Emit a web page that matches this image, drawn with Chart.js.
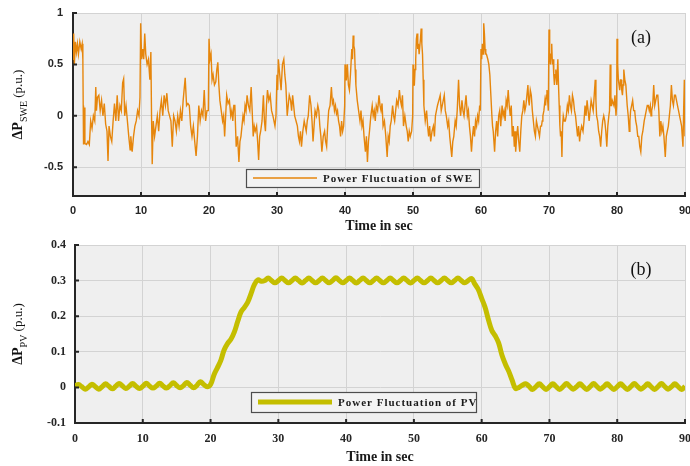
<!DOCTYPE html>
<html lang="en">
<head>
<meta charset="UTF-8">
<title>Power Fluctuation of SWE and PV</title>
<script src="https://cdn.jsdelivr.net/npm/chart.js@4.4.1/dist/chart.umd.min.js"></script>
<style>
  html, body { margin: 0; padding: 0; background: #fff; }
  #wrap { position: relative; width: 690px; height: 466px; }
  #topChart { position: absolute; left: 0; top: 0; }
  #bottomChart { position: absolute; left: 0; top: 232px; }
</style>
</head>
<body>
<div id="wrap">
  <canvas id="topChart" width="690" height="232"></canvas>
  <canvas id="bottomChart" width="690" height="234"></canvas>
</div>
<script>
// (a) wind power fluctuation (time in sec, p.u.)
const sweTime = [
  // 0 - 15 s
  0,0.1,0.2,0.35,0.5,0.65,0.8,1.0,1.2,1.35,
  1.45,1.5,1.55,1.65,1.75,2.0,2.2,2.4,2.6,2.8,
  3.0,3.2,3.35,3.45,3.6,3.8,4.0,4.2,4.4,4.6,
  4.8,5.0,5.15,5.3,5.5,5.7,5.9,6.1,6.3,6.5,
  6.7,6.9,7.1,7.3,7.45,7.6,7.8,8.0,8.2,8.4,
  8.5,8.7,8.9,9.1,9.3,9.5,9.7,9.85,9.95,10.1,
  10.25,10.4,10.55,10.7,10.9,11.1,11.3,11.45,11.55,11.65,
  11.8,12.0,12.2,12.4,12.6,12.8,13.0,13.2,13.4,13.6,
  13.8,14.0,14.2,14.4,14.6,14.8,
  // 15 - 30 s
  15.0,15.2,15.4,15.6,15.8,16.0,16.2,16.5,16.7,16.9,
  17.1,17.3,17.5,17.7,17.9,18.1,18.3,18.5,18.7,18.9,
  19.1,19.3,19.5,19.7,19.9,20.0,20.15,20.3,20.45,20.6,
  20.8,21.0,21.15,21.3,21.45,21.6,21.8,22.0,22.15,22.3,
  22.45,22.6,22.8,23.0,23.2,23.35,23.5,23.65,23.8,24.0,
  24.2,24.4,24.55,24.7,24.85,25.0,25.15,25.3,25.45,25.6,
  25.8,26.0,26.2,26.35,26.5,26.65,26.8,27.0,27.15,27.3,
  27.45,27.6,27.8,28.0,28.15,28.3,28.45,28.6,28.8,29.0,
  29.2,29.4,29.55,29.7,29.85,
  // 30 - 45 s
  30.0,30.1,30.2,30.4,30.6,30.8,31.0,31.15,31.3,31.5,
  31.65,31.8,32.0,32.15,32.3,32.45,32.6,32.8,33.0,33.15,
  33.3,33.45,33.6,33.8,34.0,34.15,34.3,34.45,34.6,34.8,
  35.0,35.15,35.3,35.45,35.6,35.8,36.0,36.15,36.3,36.45,
  36.6,36.8,37.0,37.15,37.3,37.45,37.6,37.8,38.0,38.15,
  38.3,38.45,38.6,38.75,38.9,39.05,39.2,39.35,39.5,39.65,
  39.8,39.95,40.0,40.1,40.2,40.35,40.5,40.65,40.8,41.0,
  41.1,41.2,41.3,41.4,41.5,41.6,41.8,42.0,42.2,42.35,
  42.5,42.65,42.8,43.0,43.15,43.3,43.45,43.6,43.8,44.0,
  44.15,44.3,44.45,44.6,44.8,
  // 45 - 60 s
  45.0,45.15,45.3,45.45,45.6,45.8,46.0,46.1,46.2,46.35,
  46.5,46.65,46.8,47.0,47.15,47.3,47.45,47.6,47.8,48.0,
  48.15,48.3,48.45,48.6,48.8,49.0,49.15,49.3,49.45,49.6,
  49.8,49.95,50.0,50.1,50.2,50.3,50.4,50.5,50.6,50.7,
  50.8,50.9,51.0,51.1,51.2,51.3,51.4,51.5,51.6,51.8,
  52.0,52.15,52.3,52.45,52.6,52.8,53.0,53.15,53.3,53.45,
  53.6,53.8,54.0,54.15,54.3,54.45,54.6,54.75,54.9,55.1,
  55.25,55.4,55.55,55.7,55.85,56.0,56.2,56.35,56.5,56.7,
  56.85,57.0,57.2,57.35,57.5,57.65,57.8,58.0,58.15,58.3,
  58.45,58.6,58.75,58.9,59.05,59.2,59.35,59.5,59.65,59.8,
  59.9,
  // 60 - 75 s
  60.0,60.1,60.2,60.3,60.4,60.5,60.6,60.7,60.8,61.0,
  61.15,61.3,61.45,61.6,61.7,61.8,62.0,62.15,62.3,62.45,
  62.6,62.75,62.9,63.1,63.25,63.4,63.55,63.7,63.85,64.0,
  64.15,64.3,64.45,64.6,64.75,64.9,65.0,65.1,65.25,65.4,
  65.55,65.7,65.85,66.0,66.15,66.3,66.45,66.6,66.75,66.9,
  67.0,67.1,67.25,67.4,67.55,67.7,67.85,68.0,68.15,68.3,
  68.45,68.6,68.75,68.9,69.0,69.1,69.25,69.4,69.5,69.6,
  69.7,69.8,69.9,70.0,70.1,70.2,70.3,70.4,70.5,70.6,
  70.7,70.8,70.9,71.0,71.15,71.3,71.4,71.5,71.6,71.7,
  71.8,71.9,72.0,72.1,72.25,72.4,72.55,72.7,72.85,73.0,
  73.15,73.3,73.45,73.6,73.75,73.9,74.05,74.2,74.35,74.5,
  74.65,74.8,
  // 75 - 90 s
  75.0,75.15,75.3,75.45,75.6,75.75,75.9,76.05,76.2,76.35,
  76.5,76.65,76.8,76.9,77.0,77.15,77.3,77.45,77.6,77.75,
  77.9,78.05,78.2,78.35,78.5,78.65,78.8,78.9,79.0,79.1,
  79.2,79.3,79.4,79.55,79.7,79.85,79.95,80.0,80.1,80.2,
  80.3,80.4,80.5,80.6,80.7,80.8,80.9,81.0,81.15,81.3,
  81.4,81.5,81.65,81.8,81.9,82.0,82.15,82.3,82.45,82.6,
  82.75,82.9,83.05,83.2,83.35,83.5,83.65,83.8,83.9,84.0,
  84.15,84.3,84.45,84.6,84.75,84.9,85.0,85.1,85.25,85.4,
  85.55,85.7,85.85,86.0,86.15,86.3,86.45,86.6,86.75,86.9,
  87.0,87.1,87.25,87.4,87.55,87.7,87.85,88.0,88.15,88.3,
  88.45,88.6,88.75,88.9,89.05,89.2,89.35,89.5,89.6,89.7,
  89.8,89.9,90.0
];
const sweValue = [
  // 0 - 15 s
  .55,.8,.5,.72,.62,.7,.6,.72,.65,.7,
  .55,.1,-.28,.08,-.27,-.28,-.25,-.28,-.05,-.12,
  0,-.05,.28,.05,.18,.2,.05,.15,0,.12,
  -.08,-.15,-.44,-.1,-.2,-.25,-.05,.12,-.05,.2,
  -.05,.1,.05,.32,.36,0,.1,-.05,-.2,-.33,
  -.2,-.35,-.2,-.1,-.05,.05,0,.18,.9,.55,
  .65,.55,.8,.6,.5,.55,.35,.62,0,-.47,
  -.05,-.2,-.1,0,-.15,.05,.15,0,.2,.1,
  .22,.05,0,-.05,-.3,0,
  // 15 - 30 s
  -.05,-.15,0,-.1,.05,-.05,.15,.37,.1,.12,
  .1,-.1,-.2,-.1,-.25,-.39,-.2,.1,-.05,.05,
  0,.25,-.05,.05,.05,.75,.55,.6,.35,.4,
  .3,.33,.45,.52,.3,.15,.05,-.05,0,-.2,
  0,.2,.12,.15,0,.05,-.05,.1,.1,-.3,
  -.2,-.45,-.25,-.2,-.1,0,-.05,.1,.05,.2,
  .1,.05,.28,.05,-.2,-.1,-.15,-.1,-.25,-.43,
  -.2,-.15,-.05,.2,-.05,-.15,.1,.25,.15,.2,
  .05,0,-.05,-.1,0,
  // 30 - 45 s
  .4,.25,.55,.4,.25,.5,.55,.4,.3,0,
  .1,.2,.15,.05,.2,.1,0,-.05,-.1,-.2,
  -.25,-.15,-.3,-.15,-.05,-.1,-.15,-.05,0,.2,
  .1,-.05,-.25,-.1,.05,0,.1,.05,-.1,-.2,
  -.35,-.2,-.15,-.25,-.3,-.1,.05,.1,.28,.12,
  .15,.05,.1,.02,.05,-.05,-.1,-.2,-.05,-.15,
  -.1,.1,.5,.35,.35,.5,.3,.25,.4,.65,
  .55,.78,.68,.65,.45,.3,.15,.05,-.05,.05,
  -.1,-.05,-.2,-.35,-.2,-.45,-.25,-.15,0,.1,
  0,.05,-.05,.1,.05,
  // 45 - 60 s
  .2,.1,.05,.12,-.1,-.05,-.2,-.3,-.4,-.2,
  -.25,-.1,-.05,.1,0,-.05,.05,.15,.1,.25,
  .15,.1,.2,-.1,0,-.1,-.15,-.25,-.15,-.2,
  -.15,0,.5,.3,.3,.45,.55,.75,.8,.65,
  .7,.6,.6,.75,.85,.7,.6,.35,.1,-.05,
  .05,-.1,-.2,-.1,-.25,-.15,-.1,-.2,0,.05,
  .1,.15,.2,.05,.1,.15,.2,.05,0,-.1,
  -.05,-.2,-.3,-.4,-.25,-.2,-.05,-.1,.05,.35,
  .1,0,.15,.05,0,.1,.2,0,.05,-.1,
  -.2,-.35,-.2,-.1,-.2,-.05,-.1,0,-.05,.1,
  .05,
  // 60 - 75 s
  .65,.55,.7,.6,.9,.8,.65,.6,.6,.55,
  .5,.4,.2,0,-.1,-.15,-.35,-.15,-.05,-.2,
  0,.05,-.1,.1,0,.05,-.05,.15,.1,.25,
  .1,0,.1,-.2,-.1,-.3,-.15,-.35,-.2,-.1,
  -.25,-.35,-.15,0,.05,.15,.05,.1,.2,.3,
  .15,.1,.25,.2,.05,-.05,-.15,-.2,-.05,-.1,
  -.15,-.2,-.1,-.1,-.05,0,.05,.15,.1,.2,
  .25,.15,.05,.84,.6,.5,.6,.7,.5,.55,
  .4,.3,.4,.45,.3,.55,.3,.1,-.1,-.2,
  -.15,-.4,-.1,0,-.05,-.05,0,.1,.05,.2,
  .1,.05,.2,.15,.05,0,-.1,-.2,-.1,-.25,
  -.15,-.1,
  // 75 - 90 s
  -.15,-.05,.1,0,.15,.05,-.05,.05,.15,.1,
  .05,.2,.35,.15,0,-.05,-.15,-.2,-.3,-.15,
  -.05,0,-.05,-.15,-.3,-.1,0,.05,.5,.1,
  .1,.15,.15,.1,.2,0,.1,.75,.5,.35,
  .3,.25,.35,.35,.25,.2,.3,.45,.35,.3,
  .2,.1,0,-.15,-.05,.05,.1,.15,.05,.05,
  -.05,-.1,-.2,-.2,-.3,-.35,-.2,-.15,-.1,-.05,
  0,.05,.1,.1,.05,.1,0,.05,.1,.3,
  .1,.15,.2,.2,.05,-.2,-.05,-.15,-.1,-.2,
  -.3,-.4,-.2,-.15,-.1,0,.1,.3,.15,.1,
  .2,.2,.15,.1,.05,0,-.05,-.1,-.2,-.3,
  .05,.35,-.2
];

// (b) PV power fluctuation, every 0.5 s
const pvTime = [
  0,0.5,1,1.5,2,2.5,3,3.5,4,4.5,5,5.5,6,6.5,7,7.5,8,8.5,9,9.5,
  10,10.5,11,11.5,12,12.5,13,13.5,14,14.5,15,15.5,16,16.5,17,17.5,18,18.5,19,19.5,
  20,20.5,21,21.5,22,22.5,23,23.5,24,24.5,25,25.5,26,26.5,27,27.5,28,28.5,29,29.5,
  30,30.5,31,31.5,32,32.5,33,33.5,34,34.5,35,35.5,36,36.5,37,37.5,38,38.5,39,39.5,
  40,40.5,41,41.5,42,42.5,43,43.5,44,44.5,45,45.5,46,46.5,47,47.5,48,48.5,49,49.5,
  50,50.5,51,51.5,52,52.5,53,53.5,54,54.5,55,55.5,56,56.5,57,57.5,58,58.5,59,59.5,
  60,60.5,61,61.5,62,62.5,63,63.5,64,64.5,65,65.5,66,66.5,67,67.5,68,68.5,69,69.5,
  70,70.5,71,71.5,72,72.5,73,73.5,74,74.5,75,75.5,76,76.5,77,77.5,78,78.5,79,79.5,
  80,80.5,81,81.5,82,82.5,83,83.5,84,84.5,85,85.5,86,86.5,87,87.5,88,88.5,89,89.5,
  90
];
const pvValue = [
  .004,.008,.002,-.005,.001,.009,.002,-.005,.002,.010,
  .003,-.004,.003,.011,.004,-.003,.003,.011,.003,-.003,
  .003,.012,.004,-.002,.004,.012,.004,-.002,.005,.013,
  .005,-.001,.005,.014,.006,-.001,.006,.016,.008,.002,
  .008,.035,.055,.075,.105,.123,.135,.155,.185,.212,
  .225,.24,.265,.29,.302,.298,.300,.307,.300,.294,
  .300,.307,.300,.294,.300,.307,.300,.293,.300,.307,
  .300,.294,.300,.307,.300,.294,.300,.308,.300,.294,
  .300,.307,.300,.293,.300,.307,.300,.294,.300,.307,
  .300,.294,.300,.307,.300,.294,.300,.307,.300,.293,
  .300,.307,.300,.294,.300,.307,.300,.294,.300,.307,
  .300,.294,.300,.307,.300,.294,.300,.306,.290,.275,
  .25,.225,.19,.16,.145,.125,.09,.065,.045,.02,
  -.003,.000,.006,.010,.003,-.006,.002,.010,.002,-.006,
  .002,.010,.002,-.006,.002,.011,.003,-.005,.002,.010,
  .002,-.006,.002,.011,.003,-.005,.002,.010,.002,-.006,
  .002,.010,.002,-.006,.002,.011,.003,-.005,.002,.010,
  .002,-.006,.002,.011,.003,-.005,.002,.010,.002,-.006,
  .003
];

const sweTicks = [-0.5, 0, 0.5, 1];

// plot background, inward ticks, boxed legend, panel tag and y title with subscript
const decor = {
    id: 'decor',
    beforeDraw(chart) {
        const a = chart.chartArea, ctx = chart.ctx;
        ctx.save();
        ctx.fillStyle = '#efefef';
        ctx.fillRect(a.left, a.top, a.right - a.left, a.bottom - a.top);
        ctx.restore();
    },
    afterDraw(chart, args, o) {
        const a = chart.chartArea, ctx = chart.ctx;
        const xs = chart.scales.x, ys = chart.scales.y;
        ctx.save();

        ctx.strokeStyle = '#262626';
        ctx.lineWidth = 2;
        ctx.beginPath();
        xs.ticks.forEach(t => {
            const px = xs.getPixelForValue(t.value);
            ctx.moveTo(px, a.bottom); ctx.lineTo(px, a.bottom - 4);
        });
        ys.ticks.forEach(t => {
            const py = ys.getPixelForValue(t.value);
            ctx.moveTo(a.left, py); ctx.lineTo(a.left + 4, py);
        });
        ctx.stroke();

        // legend
        const L = o.legend;
        const ds = chart.data.datasets[0];
        const midY = L.y + L.h / 2;
        ctx.fillStyle = '#f3f3f3';
        ctx.fillRect(L.x, L.y, L.w, L.h);
        ctx.strokeStyle = '#4d4d4d';
        ctx.lineWidth = 1.2;
        ctx.strokeRect(L.x + 0.5, L.y + 0.5, L.w, L.h);
        ctx.strokeStyle = ds.borderColor;
        ctx.lineWidth = ds.borderWidth;
        ctx.beginPath();
        ctx.moveTo(L.x + 7, midY); ctx.lineTo(L.x + 7 + L.line, midY);
        ctx.stroke();
        ctx.fillStyle = '#1a1a1a';
        ctx.font = 'bold 11px "Liberation Serif"';
        ctx.letterSpacing = '1px';
        ctx.textBaseline = 'middle';
        ctx.textAlign = 'left';
        ctx.fillText(ds.label, L.x + 13 + L.line, midY + 1);
        ctx.letterSpacing = '0px';

        // (a) / (b)
        ctx.font = '18px "Liberation Serif"';
        ctx.textAlign = 'center';
        ctx.fillStyle = '#111';
        ctx.fillText(o.tag, a.right - 44, a.top + 25);

        // rotated y title: ΔP_sub (p.u.)
        ctx.translate(22, (a.top + a.bottom) / 2);
        ctx.rotate(-Math.PI / 2);
        ctx.textAlign = 'left';
        ctx.textBaseline = 'alphabetic';
        const f1 = 'bold 14px "Liberation Serif"';
        const f2 = '10px "Liberation Serif"';
        const f3 = '13px "Liberation Serif"';
        ctx.font = f1; const w1 = ctx.measureText('\u0394P').width;
        ctx.font = f2; const w2 = ctx.measureText(o.sub).width;
        ctx.font = f3; const w3 = ctx.measureText(' (p.u.)').width;
        let x = -(w1 + w2 + w3) / 2;
        ctx.font = f1; ctx.fillText('\u0394P', x, 0); x += w1;
        ctx.font = f2; ctx.fillText(o.sub, x, 5); x += w2;
        ctx.font = f3; ctx.fillText(' (p.u.)', x, 0);

        ctx.restore();
    }
};

function makeChart(id, cfg) {
    return new Chart(document.getElementById(id), {
        type: 'line',
        data: {
            datasets: [{
                label: cfg.label,
                data: cfg.time.map((t, i) => ({ x: t, y: cfg.values[i] })),
                borderColor: cfg.color,
                borderWidth: cfg.width,
                tension: cfg.tension,
                pointRadius: 0,
                fill: false
            }]
        },
        options: {
            responsive: false,
            animation: false,
            layout: { padding: { top: 13, right: 5, bottom: 0, left: 0 } },
            plugins: {
                legend: { display: false },
                tooltip: { enabled: false },
                decor: { legend: cfg.legend, tag: cfg.tag, sub: cfg.sub }
            },
            scales: {
                x: {
                    type: 'linear',
                    min: 0,
                    max: 90,
                    ticks: { stepSize: 10, padding: cfg.xPad, color: '#262626', font: cfg.tickFont },
                    grid: { color: '#d3d3d3', drawTicks: false },
                    border: { color: '#262626', width: 2 },
                    title: {
                        display: true,
                        text: 'Time in sec',
                        color: '#1a1a1a',
                        padding: { top: 0, bottom: cfg.titlePad },
                        font: { family: 'Liberation Serif', size: 14, weight: 'bold' }
                    },
                    afterFit: s => { s.height = cfg.xHeight; s.paddingLeft = 0; s.paddingRight = 0; }
                },
                y: {
                    min: cfg.yMin,
                    max: cfg.yMax,
                    afterBuildTicks: cfg.yTicks ? s => { s.ticks = cfg.yTicks.map(v => ({ value: v })); } : undefined,
                    ticks: {
                        stepSize: 0.1, padding: cfg.yPad, color: '#262626', font: cfg.tickFont,
                        callback: v => String(Math.round(v * 10) / 10)
                    },
                    grid: { color: '#d3d3d3', drawTicks: false },
                    border: { color: '#262626', width: 2 },
                    afterFit: s => { s.width = cfg.yWidth; s.paddingTop = 0; s.paddingBottom = 0; }
                }
            }
        },
        plugins: [decor]
    });
}

makeChart('topChart', {
    label: 'Power Fluctuation of SWE',
    time: sweTime, values: sweValue,
    color: '#e6860c', width: 1.4, tension: 0,
    yMin: -0.78, yMax: 1, yTicks: sweTicks,
    yWidth: 73, xHeight: 36, xPad: 8, yPad: 10, titlePad: -3,
    tickFont: { family: 'Liberation Sans', size: 11, weight: 'bold' },
    legend: { x: 246, y: 169, w: 233, h: 18, line: 64 },
    tag: '(a)', sub: 'SWE'
});

makeChart('bottomChart', {
    label: 'Power Fluctuation of PV',
    time: pvTime, values: pvValue,
    color: '#c4be00', width: 5, tension: 0.4,
    yMin: -0.1, yMax: 0.4, yTicks: null,
    yWidth: 75, xHeight: 43, xPad: 9, yPad: 9, titlePad: 0,
    tickFont: { family: 'Liberation Serif', size: 12, weight: 'bold' },
    legend: { x: 251, y: 160, w: 225, h: 20, line: 74 },
    tag: '(b)', sub: 'PV'
});
</script>
</body>
</html>
